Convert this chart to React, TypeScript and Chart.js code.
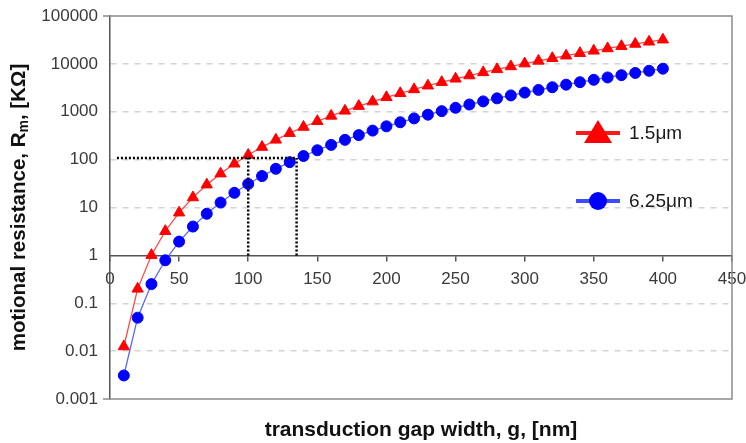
import React, { useEffect, useRef } from "react";
import { Chart, registerables } from "chart.js";

Chart.register(...registerables);

const gapWidths = [10, 20, 30, 40, 50, 60, 70, 80, 90, 100, 110, 120, 130, 140, 150, 160, 170, 180, 190, 200, 210, 220, 230, 240, 250, 260, 270, 280, 290, 300, 310, 320, 330, 340, 350, 360, 370, 380, 390, 400];
const resistance1p5 = [0.0125, 0.2, 1.01, 3.2, 7.8, 16.2, 30, 51, 82, 125, 183, 259, 357, 480, 633, 819, 1044, 1312, 1629, 2000, 2431, 2928, 3498, 4147, 4883, 5712, 6643, 7683, 8841, 10125, 11544, 13107, 14824, 16704, 18758, 20995, 23427, 26064, 28918, 32000];
const resistance6p25 = [0.0031, 0.05, 0.251, 0.79, 1.94, 4.0, 7.4, 12.7, 20.3, 31, 45.4, 64.3, 88.5, 119, 157, 203, 259, 325, 404, 496, 603, 726, 868, 1029, 1211, 1417, 1647, 1905, 2193, 2511, 2863, 3251, 3676, 4143, 4652, 5207, 5810, 6464, 7172, 7936];
const seriesLabels = ["1.5\u03bcm", "6.25\u03bcm"];
const yTickValues = [0.001, 0.01, 0.1, 1, 10, 100, 1000, 10000, 100000];
const guideLevel = 108;
const guideGaps = [100, 135];
const guideStart = 5;
const xTitle = "transduction gap width, g, [nm]";

const FONT = "'Liberation Sans', Arial, sans-serif";

const framePlugin = {
  id: "frame",
  beforeDatasetsDraw(chart: any) {
    const { ctx, chartArea } = chart;
    ctx.save();
    ctx.strokeStyle = "#8a8a8a";
    ctx.lineWidth = 1.5;
    ctx.beginPath();
    ctx.moveTo(chartArea.left - 7, chartArea.top);
    ctx.lineTo(chartArea.right, chartArea.top);
    ctx.lineTo(chartArea.right, chartArea.bottom);
    ctx.lineTo(chartArea.left - 7, chartArea.bottom);
    ctx.stroke();
    ctx.restore();
  },
};

const labelsPlugin = {
  id: "labelsPlugin",
  afterDraw(chart: any) {
    const { ctx, chartArea } = chart;
    ctx.save();
    // x title
    ctx.fillStyle = "#111";
    ctx.font = `bold 21px ${FONT}`;
    ctx.textAlign = "center";
    ctx.textBaseline = "middle";
    ctx.fillText(xTitle, (chartArea.left + chartArea.right) / 2, 430);
    // y title with subscript
    const cy = (chartArea.top + chartArea.bottom) / 2;
    ctx.translate(19, cy);
    ctx.rotate(-Math.PI / 2);
    const big = `bold 20.5px ${FONT}`;
    const small = `bold 14px ${FONT}`;
    const p1 = "motional resistance, R";
    const p2 = "m";
    const p3 = ", [K\u03a9]";
    ctx.font = big;
    const w1 = ctx.measureText(p1).width;
    const w3 = ctx.measureText(p3).width;
    ctx.font = small;
    const w2 = ctx.measureText(p2).width;
    const total = w1 + w2 + w3;
    let x = -total / 2;
    ctx.textAlign = "left";
    ctx.font = big;
    ctx.fillText(p1, x, 0);
    x += w1;
    ctx.font = small;
    ctx.fillText(p2, x, 5);
    x += w2;
    ctx.font = big;
    ctx.fillText(p3, x, 0);
    ctx.restore();

    // legend
    ctx.save();
    const items = [
      { y: 133, color: "#ff0000", style: "triangle", text: seriesLabels[0] },
      { y: 201, color: "#0000ff", style: "circle", text: seriesLabels[1] },
    ];
    for (const it of items) {
      ctx.strokeStyle = it.color === "#ff0000" ? "#ff1a1a" : "#3a4dff";
      ctx.lineWidth = 4;
      ctx.beginPath();
      ctx.moveTo(576, it.y);
      ctx.lineTo(620, it.y);
      ctx.stroke();
      ctx.fillStyle = it.color;
      ctx.beginPath();
      if (it.style === "triangle") {
        ctx.moveTo(598, it.y - 13);
        ctx.lineTo(612, it.y + 10);
        ctx.lineTo(584, it.y + 10);
        ctx.closePath();
      } else {
        ctx.arc(598, it.y, 9, 0, Math.PI * 2);
      }
      ctx.fill();
      ctx.fillStyle = "#1a1a1a";
      ctx.font = `19px ${FONT}`;
      ctx.textBaseline = "middle";
      ctx.textAlign = "left";
      ctx.fillText(it.text, 629, it.y + 1);
    }
    ctx.restore();
  },
};

export default function App() {
  const ref = useRef<HTMLCanvasElement>(null);
  useEffect(() => {
    if (!ref.current) return;
    const dotted = {
      borderColor: "#000",
      borderWidth: 2.5,
      borderDash: [2, 2],
      pointRadius: 0,
      fill: false,
    };
    const chart = new Chart(ref.current, {
      type: "line",
      data: {
        datasets: [
          { ...dotted, label: "guideH", data: [{ x: guideStart, y: guideLevel }, { x: guideGaps[1], y: guideLevel }] },
          { ...dotted, label: "guideA", data: [{ x: guideGaps[0], y: 1 }, { x: guideGaps[0], y: guideLevel }] },
          { ...dotted, label: "guideB", data: [{ x: guideGaps[1], y: 1 }, { x: guideGaps[1], y: guideLevel }] },
          {
            label: seriesLabels[0],
            data: gapWidths.map((g, i) => ({ x: g, y: resistance1p5[i] })),
            borderColor: "#ff4a4a",
            borderWidth: 1.3,
            backgroundColor: "#ff0000",
            pointBackgroundColor: "#ff0000",
            pointBorderColor: "#ff0000",
            pointStyle: "triangle",
            pointRadius: 6.5,
            pointBorderWidth: 1,
          },
          {
            label: seriesLabels[1],
            data: gapWidths.map((g, i) => ({ x: g, y: resistance6p25[i] })),
            borderColor: "#5a6aff",
            borderWidth: 1.3,
            backgroundColor: "#0000ff",
            pointBackgroundColor: "#0000ff",
            pointBorderColor: "#0000ff",
            pointStyle: "circle",
            pointRadius: 5.5,
            pointBorderWidth: 1,
          },
        ],
      },
      options: {
        animation: false,
        responsive: false,
        layout: { padding: { left: 0, right: 14, top: 16, bottom: 44 } },
        plugins: {
          legend: { display: false },
          tooltip: { enabled: false },
          title: { display: false },
        },
        scales: {
          x: {
            type: "linear",
            min: 0,
            max: 450,
            position: { y: 1 } as any,
            afterFit: (scale: any) => {
              scale.paddingLeft = 0;
              scale.paddingRight = 0;
            },
            ticks: {
              stepSize: 50,
              color: "#3a3a3a",
              font: { family: FONT, size: 17 },
              padding: 9,
              maxRotation: 0,
            },
            grid: { drawOnChartArea: false, drawTicks: true, tickLength: 5, color: "#555", lineWidth: 1.5 },
            border: { display: true, color: "#555", width: 1.5 },
          },
          y: {
            type: "logarithmic",
            min: 0.001,
            max: 100000,
            afterBuildTicks: (scale: any) => {
              scale.ticks = yTickValues.map((v) => ({ value: v }));
            },
            afterFit: (scale: any) => {
              scale.width = 110;
              scale.paddingTop = 0;
              scale.paddingBottom = 0;
            },
            ticks: {
              color: "#3a3a3a",
              font: { family: FONT, size: 17 },
              padding: 12,
              callback: (v: any) => String(v),
              autoSkip: false,
            },
            grid: {
              drawTicks: false,
              color: (c: any) => {
                const v = c.tick && c.tick.value;
                return v === 1 || v === 100000 || v === 0.001 ? "rgba(0,0,0,0)" : "#d4d4d4";
              },
              lineWidth: 1.5,
            },
            border: { display: true, color: "#555", width: 1.5, dash: [6, 6] as any },
          },
        },
      } as any,
      plugins: [framePlugin, labelsPlugin],
    });
    return () => chart.destroy();
  }, []);
  return (
    <div style={{ position: "absolute", left: 0, top: 0, width: 746, height: 443, background: "#fff" }}>
      <canvas ref={ref} width={746} height={443} />
    </div>
  );
}
